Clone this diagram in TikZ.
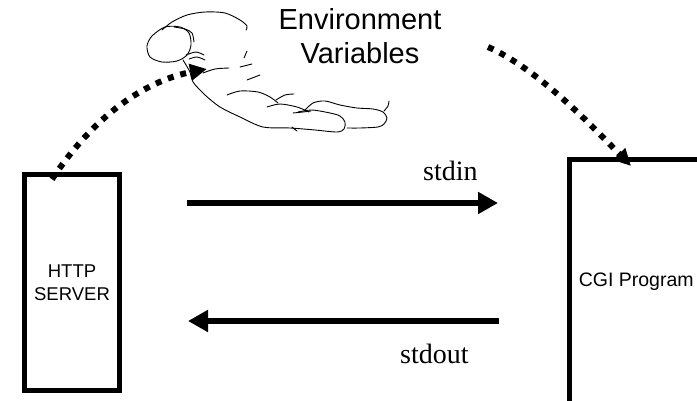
\documentclass[tikz,border=0pt]{standalone}
\usepackage{fontspec}
\setmainfont{Liberation Serif}
\newfontfamily\helv{Liberation Sans}
\usetikzlibrary{arrows.meta}

\tikzset{
  box/.style={draw, line width=4.5pt, inner sep=0pt},
  flow/.style={line width=6pt, -{Triangle[length=20pt,width=21pt]}},
  hint/.style={line width=6pt, dash pattern=on 6pt off 7pt, -{Triangle[length=17pt,width=16pt]}},
  sketch/.style={line width=0.9pt, line cap=round, line join=round}
}

\begin{document}
\begin{tikzpicture}[x=1pt,y=-1pt]
        \useasboundingbox (0,0) rectangle (697,401);
        \clip (0,0) rectangle (697,401);
        \node[box, minimum width=95pt, minimum height=216pt, align=center, font=\helv\fontsize{18.5}{23}\selectfont] (server) at (72,282.5) {HTTP\\SERVER};
        \node[box, minimum width=261pt, minimum height=250pt] (cgi) at (700,284.5) {};
        \node[anchor=west, font=\helv\fontsize{19.5}{23}\selectfont] (cgitext) at ([xshift=8pt,yshift=2.5pt]cgi.west) {CGI Program};
        \node[align=center, inner sep=0pt, font=\helv\fontsize{29}{34}\selectfont] (env) at (360,36) {Environment\\Variables};

        \coordinate (inA) at (187,203);
        \coordinate (inB) at (498,203);
        \coordinate (outA) at (499,321);
        \coordinate (outB) at (188,321);
        \draw[flow] (inA) -- (inB);
        \draw[flow] (outA) -- (outB);
        \node[anchor=base west, inner sep=0pt, font=\fontsize{28}{30}\selectfont] (stdin) at (423,181) {stdin};
        \node[anchor=base west, inner sep=0pt, font=\fontsize{28}{30}\selectfont] (stdout) at (400,363) {stdout};

        \coordinate (palm) at (207,69);
        \coordinate (give) at (488,47);
        \coordinate (take) at (631,166);
        \draw[hint] ([xshift=-20pt,yshift=-7pt]server.north) .. controls (98,110) and (150,80) .. (palm);
        \draw[hint] (give) .. controls (538,69) and (592,126) .. (take);

        \draw[sketch] plot[smooth cycle] coordinates {(165,27) (180,27) (189,33) (191,45) (187,55) (177,61) (162,62) (150,57) (147,46) (152,36)};
        \draw[sketch] plot[smooth] coordinates {(162,30) (172,22) (187,15) (205,12) (225,13) (240,20) (247,26) (246,30)};
        \draw[sketch] plot[smooth] coordinates {(174,27) (185,29) (192,33) (194,42)};
        \draw[sketch] plot[smooth] coordinates {(186,55) (196,52) (204,55)};
        \draw[sketch] plot[smooth] coordinates {(189,59) (197,57) (205,60)};
        \draw[sketch] plot[smooth] coordinates {(183,60) (190,72) (193,82) (205,95) (220,107) (240,117) (263,127) (290,128) (315,130) (337,132) (344,129) (345,122) (340,116) (330,113) (312,110) (298,112)};
        \draw[sketch] plot[smooth] coordinates {(304,111) (313,103) (325,101) (340,105) (357,108) (373,109) (383,112) (387,118) (384,124) (378,127) (360,128) (347,128)};
        \draw[sketch] plot[smooth] coordinates {(384,111) (388,106) (389,101)};
        \draw[sketch] plot[smooth] coordinates {(227,95) (240,91) (258,92) (270,97) (278,103)};
        \draw[sketch] plot[smooth] coordinates {(276,100) (285,95) (294,94)};
        \draw[sketch] plot[smooth] coordinates {(267,107) (280,104) (297,107) (309,112)};
        \draw[sketch] plot[smooth] coordinates {(293,113) (303,112) (311,111)};
        \draw[sketch] plot[smooth] coordinates {(203,73) (215,69) (229,68)};
        \draw[sketch] (240,67) -- (252,64);
        \draw[sketch] (247,80) -- (260,75);
        \draw[sketch] (244,58) -- (247,51);
        \draw[sketch] (292,127) -- (297,131);
    \end{tikzpicture}
\end{document}
